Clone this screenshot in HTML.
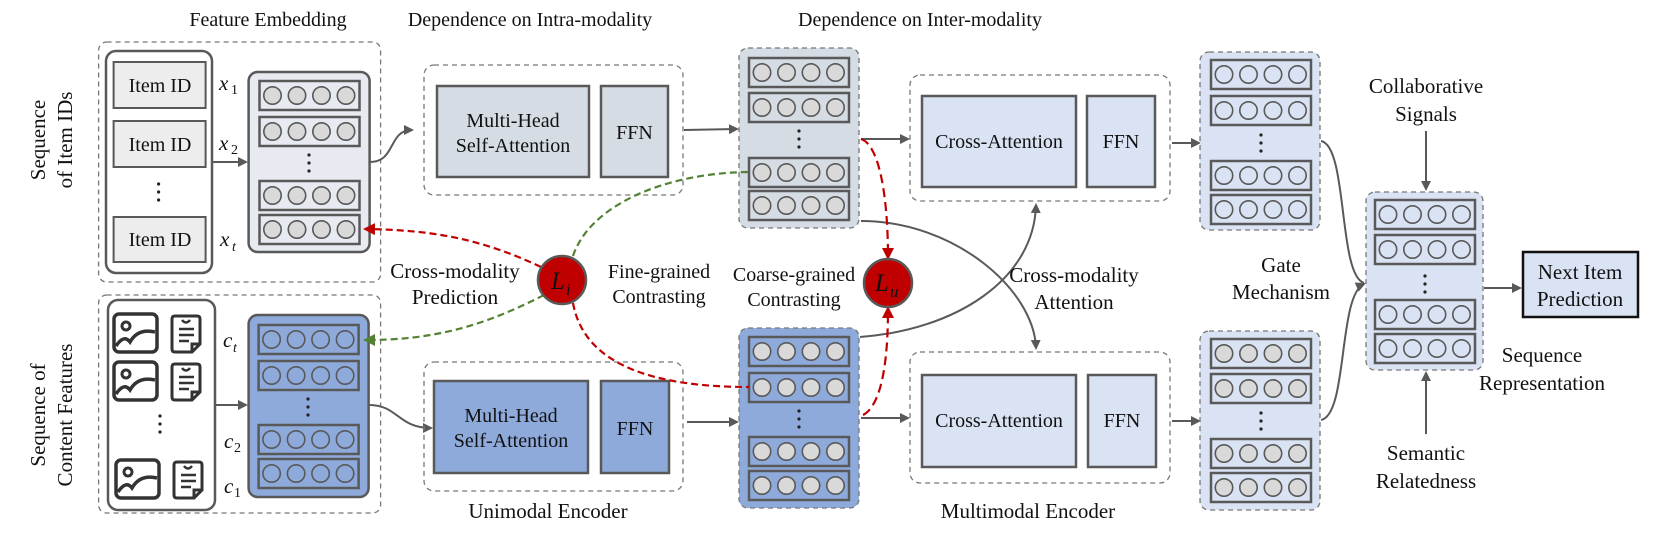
<!DOCTYPE html>
<html><head><meta charset="utf-8"><style>
html,body{margin:0;padding:0;background:#fff;}
svg{display:block;}
text{font-family:"Liberation Serif",serif;fill:#111;}
</style></head><body>
<svg width="1661" height="533" viewBox="0 0 1661 533" xmlns="http://www.w3.org/2000/svg">
<defs>
<marker id="ag" markerWidth="10" markerHeight="10" refX="8" refY="5" orient="auto" markerUnits="userSpaceOnUse"><path d="M0,0 L10,5 L0,10 z" fill="#595959"/></marker>
<marker id="ar" markerWidth="12" markerHeight="12" refX="9" refY="6" orient="auto" markerUnits="userSpaceOnUse"><path d="M0,0 L12,6 L0,12 z" fill="#c00000"/></marker>
<marker id="agr" markerWidth="12" markerHeight="12" refX="9" refY="6" orient="auto" markerUnits="userSpaceOnUse"><path d="M0,0 L12,6 L0,12 z" fill="#548235"/></marker>
<g id="rg">
<rect x="0" y="0" width="100" height="29" fill="none" stroke="#595959" stroke-width="2.5"/>
<circle cx="13" cy="14.5" r="8.7" fill="#d9d9d9" stroke="#595959" stroke-width="1.6"/>
<circle cx="37.5" cy="14.5" r="8.7" fill="#d9d9d9" stroke="#595959" stroke-width="1.6"/>
<circle cx="62" cy="14.5" r="8.7" fill="#d9d9d9" stroke="#595959" stroke-width="1.6"/>
<circle cx="86.5" cy="14.5" r="8.7" fill="#d9d9d9" stroke="#595959" stroke-width="1.6"/>
</g>
<g id="rb">
<rect x="0" y="0" width="100" height="29" fill="none" stroke="#595959" stroke-width="2.5"/>
<circle cx="13" cy="14.5" r="8.7" fill="#8eaadb" stroke="#595959" stroke-width="1.6"/>
<circle cx="37.5" cy="14.5" r="8.7" fill="#8eaadb" stroke="#595959" stroke-width="1.6"/>
<circle cx="62" cy="14.5" r="8.7" fill="#8eaadb" stroke="#595959" stroke-width="1.6"/>
<circle cx="86.5" cy="14.5" r="8.7" fill="#8eaadb" stroke="#595959" stroke-width="1.6"/>
</g>
<g id="rw">
<rect x="0" y="0" width="100" height="29" fill="none" stroke="#595959" stroke-width="2.5"/>
<circle cx="13" cy="14.5" r="8.7" fill="#dae3f3" stroke="#595959" stroke-width="1.6"/>
<circle cx="37.5" cy="14.5" r="8.7" fill="#dae3f3" stroke="#595959" stroke-width="1.6"/>
<circle cx="62" cy="14.5" r="8.7" fill="#dae3f3" stroke="#595959" stroke-width="1.6"/>
<circle cx="86.5" cy="14.5" r="8.7" fill="#dae3f3" stroke="#595959" stroke-width="1.6"/>
</g>
<g id="vd"><circle cx="0" cy="-8" r="1.6" fill="#222"/><circle cx="0" cy="0" r="1.6" fill="#222"/><circle cx="0" cy="8" r="1.6" fill="#222"/></g>
<g id="img">
<rect x="0" y="0" width="43" height="38" rx="5" fill="none" stroke="#333" stroke-width="3.5"/>
<circle cx="12" cy="12" r="4" fill="none" stroke="#333" stroke-width="3"/>
<path d="M2,32 Q10,20 16,28 Q24,14 41,18" fill="none" stroke="#333" stroke-width="3.5"/>
</g>
<g id="doc">
<path d="M4,2 L26,2 Q29,2 29,5 L29,30 L21,38 L4,38 Q1,38 1,35 L1,5 Q1,2 4,2 Z" fill="none" stroke="#333" stroke-width="3"/>
<path d="M21,38 L21,30 L29,30" fill="none" stroke="#333" stroke-width="3"/>
<path d="M8,15 H23 M8,21 H23 M8,27 H18" stroke="#333" stroke-width="2.5"/>
<path d="M11,6 Q15,11 19,6" fill="none" stroke="#333" stroke-width="2.5"/>
</g>
</defs>

<!-- Titles -->
<text x="268" y="26" font-size="20" text-anchor="middle">Feature Embedding</text>
<text x="530" y="26" font-size="20" text-anchor="middle">Dependence on Intra-modality</text>
<text x="920" y="26" font-size="20" text-anchor="middle">Dependence on Inter-modality</text>
<text font-size="21" text-anchor="middle" transform="translate(45,140) rotate(-90)">Sequence</text>
<text font-size="21" text-anchor="middle" transform="translate(72,140) rotate(-90)">of Item IDs</text>
<text font-size="21" text-anchor="middle" transform="translate(45,415) rotate(-90)">Sequence of</text>
<text font-size="21" text-anchor="middle" transform="translate(72,415) rotate(-90)">Content Features</text>

<!-- Feature embedding top -->
<rect x="98.6" y="42" width="282" height="240" rx="8" fill="none" stroke="#777" stroke-width="1.3" stroke-dasharray="5,4"/>
<rect x="106" y="51" width="106" height="222" rx="10" fill="#fff" stroke="#595959" stroke-width="2.5"/>
<rect x="113.6" y="62" width="92" height="46" fill="#ededed" stroke="#595959" stroke-width="2"/>
<text x="160" y="92" font-size="20" text-anchor="middle">Item ID</text>
<rect x="113.6" y="121" width="92" height="46" fill="#ededed" stroke="#595959" stroke-width="2"/>
<text x="160" y="151" font-size="20" text-anchor="middle">Item ID</text>
<use href="#vd" x="158.6" y="192"/>
<rect x="113.6" y="217" width="92" height="45" fill="#ededed" stroke="#595959" stroke-width="2"/>
<text x="160" y="246" font-size="20" text-anchor="middle">Item ID</text>
<text x="219" y="90" font-size="21" font-style="italic">x</text><text x="231" y="94" font-size="14">1</text>
<text x="219" y="150" font-size="21" font-style="italic">x</text><text x="231" y="154" font-size="14">2</text>
<text x="220" y="246" font-size="21" font-style="italic">x</text><text x="232" y="251" font-size="14" font-style="italic">t</text>
<line x1="212" y1="162" x2="246" y2="162" stroke="#595959" stroke-width="2" marker-end="url(#ag)"/>
<rect x="248.6" y="72" width="121" height="180" rx="9" fill="#e7eaf0" stroke="#595959" stroke-width="2.5"/>
<use href="#rg" x="259.5" y="81"/><use href="#rg" x="259.5" y="117"/>
<use href="#vd" x="309" y="163"/>
<use href="#rg" x="259.5" y="181"/><use href="#rg" x="259.5" y="215"/>
<path d="M370,162 C396,162 388,130 412,130" fill="none" stroke="#595959" stroke-width="2" marker-end="url(#ag)"/>

<!-- Feature embedding bottom -->
<rect x="98.6" y="295" width="282" height="218" rx="8" fill="none" stroke="#777" stroke-width="1.3" stroke-dasharray="5,4"/>
<rect x="108" y="300" width="107" height="210" rx="10" fill="#fff" stroke="#595959" stroke-width="2.5"/>
<use href="#img" x="114" y="314"/><use href="#doc" x="171" y="314"/>
<use href="#img" x="114" y="362"/><use href="#doc" x="171" y="362"/>
<use href="#vd" x="160" y="424"/>
<use href="#img" x="116" y="460"/><use href="#doc" x="173" y="460"/>
<text x="223" y="347" font-size="21" font-style="italic">c</text><text x="233" y="352" font-size="14" font-style="italic">t</text>
<text x="224" y="448" font-size="21" font-style="italic">c</text><text x="234" y="452" font-size="14">2</text>
<text x="224" y="493" font-size="21" font-style="italic">c</text><text x="234" y="497" font-size="14">1</text>
<line x1="215" y1="405" x2="246" y2="405" stroke="#595959" stroke-width="2" marker-end="url(#ag)"/>
<rect x="248.6" y="315" width="120" height="182" rx="9" fill="#8eaadb" stroke="#595959" stroke-width="2.5"/>
<use href="#rb" x="258.6" y="325"/><use href="#rb" x="258.6" y="361"/>
<use href="#vd" x="308" y="407"/>
<use href="#rb" x="258.6" y="425"/><use href="#rb" x="258.6" y="459"/>
<path d="M369,405 C398,405 398,428 431,428" fill="none" stroke="#595959" stroke-width="2" marker-end="url(#ag)"/>

<!-- Intra encoder top -->
<rect x="424" y="65" width="259" height="130" rx="10" fill="none" stroke="#777" stroke-width="1.3" stroke-dasharray="5,4"/>
<rect x="437" y="86" width="152" height="91" fill="#d6dce4" stroke="#595959" stroke-width="2.5"/>
<text x="513" y="127" font-size="20" text-anchor="middle">Multi-Head</text>
<text x="513" y="152" font-size="20" text-anchor="middle">Self-Attention</text>
<rect x="601" y="86" width="67" height="91" fill="#d6dce4" stroke="#595959" stroke-width="2.5"/>
<text x="634.5" y="139" font-size="20" text-anchor="middle">FFN</text>
<line x1="684" y1="130" x2="737" y2="129" stroke="#595959" stroke-width="2" marker-end="url(#ag)"/>

<!-- Intra encoder bottom -->
<rect x="424" y="362" width="259" height="129" rx="10" fill="none" stroke="#777" stroke-width="1.3" stroke-dasharray="5,4"/>
<rect x="434" y="381" width="154" height="92" fill="#8eaadb" stroke="#595959" stroke-width="2.5"/>
<text x="511" y="422" font-size="20" text-anchor="middle">Multi-Head</text>
<text x="511" y="447" font-size="20" text-anchor="middle">Self-Attention</text>
<rect x="601" y="381" width="68" height="92" fill="#8eaadb" stroke="#595959" stroke-width="2.5"/>
<text x="635" y="435" font-size="20" text-anchor="middle">FFN</text>
<line x1="687" y1="422" x2="737" y2="422" stroke="#595959" stroke-width="2" marker-end="url(#ag)"/>
<text x="548" y="518" font-size="21" text-anchor="middle">Unimodal Encoder</text>

<!-- Intra outputs -->
<rect x="739" y="48" width="120" height="180" rx="9" fill="#d6dce4" stroke="#777" stroke-width="1.3" stroke-dasharray="5,4"/>
<use href="#rg" x="749" y="58"/><use href="#rg" x="749" y="93"/>
<use href="#vd" x="799" y="139"/>
<use href="#rg" x="749" y="158"/><use href="#rg" x="749" y="191"/>
<rect x="739" y="328" width="120" height="180" rx="9" fill="#8eaadb" stroke="#777" stroke-width="1.3" stroke-dasharray="5,4"/>
<use href="#rg" x="749" y="337"/><use href="#rg" x="749" y="373"/>
<use href="#vd" x="799" y="419"/>
<use href="#rg" x="749" y="437"/><use href="#rg" x="749" y="471"/>

<!-- Inter encoder top -->
<rect x="910" y="75" width="260" height="126" rx="10" fill="none" stroke="#777" stroke-width="1.3" stroke-dasharray="5,4"/>
<rect x="922" y="96" width="154" height="91" fill="#dae3f3" stroke="#595959" stroke-width="2.5"/>
<text x="999" y="148" font-size="20" text-anchor="middle">Cross-Attention</text>
<rect x="1087" y="96" width="68" height="91" fill="#dae3f3" stroke="#595959" stroke-width="2.5"/>
<text x="1121" y="148" font-size="20" text-anchor="middle">FFN</text>
<line x1="861" y1="139" x2="908" y2="139" stroke="#595959" stroke-width="2" marker-end="url(#ag)"/>
<line x1="1172" y1="143" x2="1199" y2="143" stroke="#595959" stroke-width="2" marker-end="url(#ag)"/>

<!-- Inter encoder bottom -->
<rect x="910" y="352" width="260" height="131" rx="10" fill="none" stroke="#777" stroke-width="1.3" stroke-dasharray="5,4"/>
<rect x="922" y="375" width="154" height="92" fill="#dae3f3" stroke="#595959" stroke-width="2.5"/>
<text x="999" y="427" font-size="20" text-anchor="middle">Cross-Attention</text>
<rect x="1088" y="375" width="68" height="92" fill="#dae3f3" stroke="#595959" stroke-width="2.5"/>
<text x="1122" y="427" font-size="20" text-anchor="middle">FFN</text>
<line x1="861" y1="418" x2="908" y2="418" stroke="#595959" stroke-width="2" marker-end="url(#ag)"/>
<line x1="1172" y1="421" x2="1199" y2="421" stroke="#595959" stroke-width="2" marker-end="url(#ag)"/>
<text x="1028" y="518" font-size="21" text-anchor="middle">Multimodal Encoder</text>

<!-- Cross modality attention arrows -->
<path d="M861,221 C955,221 1034,290 1036,348" fill="none" stroke="#595959" stroke-width="2" marker-end="url(#ag)"/>
<path d="M860,337 C955,330 1034,280 1036,205" fill="none" stroke="#595959" stroke-width="2" marker-end="url(#ag)"/>
<text x="1074" y="282" font-size="21" text-anchor="middle">Cross-modality</text>
<text x="1074" y="309" font-size="21" text-anchor="middle">Attention</text>

<!-- Inter outputs -->
<rect x="1200" y="52" width="120" height="178" rx="9" fill="#dae3f3" stroke="#777" stroke-width="1.3" stroke-dasharray="5,4"/>
<use href="#rw" x="1211" y="60"/><use href="#rw" x="1211" y="96"/>
<use href="#vd" x="1261" y="143"/>
<use href="#rw" x="1211" y="161"/><use href="#rw" x="1211" y="195"/>
<rect x="1200" y="331" width="120" height="179" rx="9" fill="#dae3f3" stroke="#777" stroke-width="1.3" stroke-dasharray="5,4"/>
<use href="#rg" x="1211" y="339"/><use href="#rg" x="1211" y="374"/>
<use href="#vd" x="1261" y="421"/>
<use href="#rg" x="1211" y="439"/><use href="#rg" x="1211" y="473"/>

<!-- Gate -->
<path d="M1321,141 C1348,146 1338,275 1364,283" fill="none" stroke="#595959" stroke-width="2"/>
<path d="M1321,420 C1348,415 1338,295 1364,284" fill="none" stroke="#595959" stroke-width="2" marker-end="url(#ag)"/>
<text x="1281" y="272" font-size="21" text-anchor="middle">Gate</text>
<text x="1281" y="299" font-size="21" text-anchor="middle">Mechanism</text>

<!-- Final sequence representation -->
<rect x="1366" y="192" width="117" height="178" rx="9" fill="#dae3f3" stroke="#777" stroke-width="1.3" stroke-dasharray="5,4"/>
<use href="#rw" x="1375" y="200"/><use href="#rw" x="1375" y="235"/>
<use href="#vd" x="1425" y="284"/>
<use href="#rw" x="1375" y="300"/><use href="#rw" x="1375" y="334"/>
<text x="1426" y="93" font-size="21" text-anchor="middle">Collaborative</text>
<text x="1426" y="121" font-size="21" text-anchor="middle">Signals</text>
<line x1="1426" y1="131" x2="1426" y2="189" stroke="#595959" stroke-width="2" marker-end="url(#ag)"/>
<line x1="1426" y1="434" x2="1426" y2="373" stroke="#595959" stroke-width="2" marker-end="url(#ag)"/>
<text x="1426" y="460" font-size="21" text-anchor="middle">Semantic</text>
<text x="1426" y="488" font-size="21" text-anchor="middle">Relatedness</text>
<text x="1542" y="362" font-size="21" text-anchor="middle">Sequence</text>
<text x="1542" y="390" font-size="21" text-anchor="middle">Representation</text>
<line x1="1484" y1="288" x2="1520" y2="288" stroke="#595959" stroke-width="2" marker-end="url(#ag)"/>
<rect x="1523" y="252" width="115" height="65" fill="#dae3f3" stroke="#111" stroke-width="2.5"/>
<text x="1580" y="279" font-size="21" text-anchor="middle">Next Item</text>
<text x="1580" y="306" font-size="21" text-anchor="middle">Prediction</text>

<!-- Loss connectors -->
<path d="M541,267 C480,238 430,230 366,229" fill="none" stroke="#c00000" stroke-width="2.2" stroke-dasharray="7,4" marker-end="url(#ar)"/>
<path d="M544,295 C480,328 430,340 366,340" fill="none" stroke="#548235" stroke-width="2.2" stroke-dasharray="7,4" marker-end="url(#agr)"/>
<path d="M573,256 C590,205 665,173 749,172" fill="none" stroke="#548235" stroke-width="2.2" stroke-dasharray="7,4"/>
<path d="M573,303 C585,370 665,387 749,387" fill="none" stroke="#c00000" stroke-width="2.2" stroke-dasharray="7,4"/>
<path d="M861,139 C880,145 888,200 888,257" fill="none" stroke="#c00000" stroke-width="2.2" stroke-dasharray="9,5" marker-end="url(#ar)"/>
<path d="M863,415 C882,405 888,360 888,309" fill="none" stroke="#c00000" stroke-width="2.2" stroke-dasharray="9,5" marker-end="url(#ar)"/>
<text x="659" y="278" font-size="20" text-anchor="middle">Fine-grained</text>
<text x="659" y="303" font-size="20" text-anchor="middle">Contrasting</text>
<text x="794" y="281" font-size="20" text-anchor="middle">Coarse-grained</text>
<text x="794" y="306" font-size="20" text-anchor="middle">Contrasting</text>
<text x="455" y="278" font-size="21" text-anchor="middle">Cross-modality</text>
<text x="455" y="304" font-size="21" text-anchor="middle">Prediction</text>
<circle cx="562" cy="280" r="24" fill="#c00000" stroke="#595959" stroke-width="2.5"/>
<text x="551" y="289" font-size="25" font-style="italic">L</text><text x="566" y="295" font-size="17" font-style="italic">i</text>
<circle cx="888" cy="283" r="24" fill="#c00000" stroke="#595959" stroke-width="2.5"/>
<text x="875" y="291" font-size="25" font-style="italic">L</text><text x="890" y="297" font-size="17" font-style="italic">u</text>
</svg>
</body></html>
